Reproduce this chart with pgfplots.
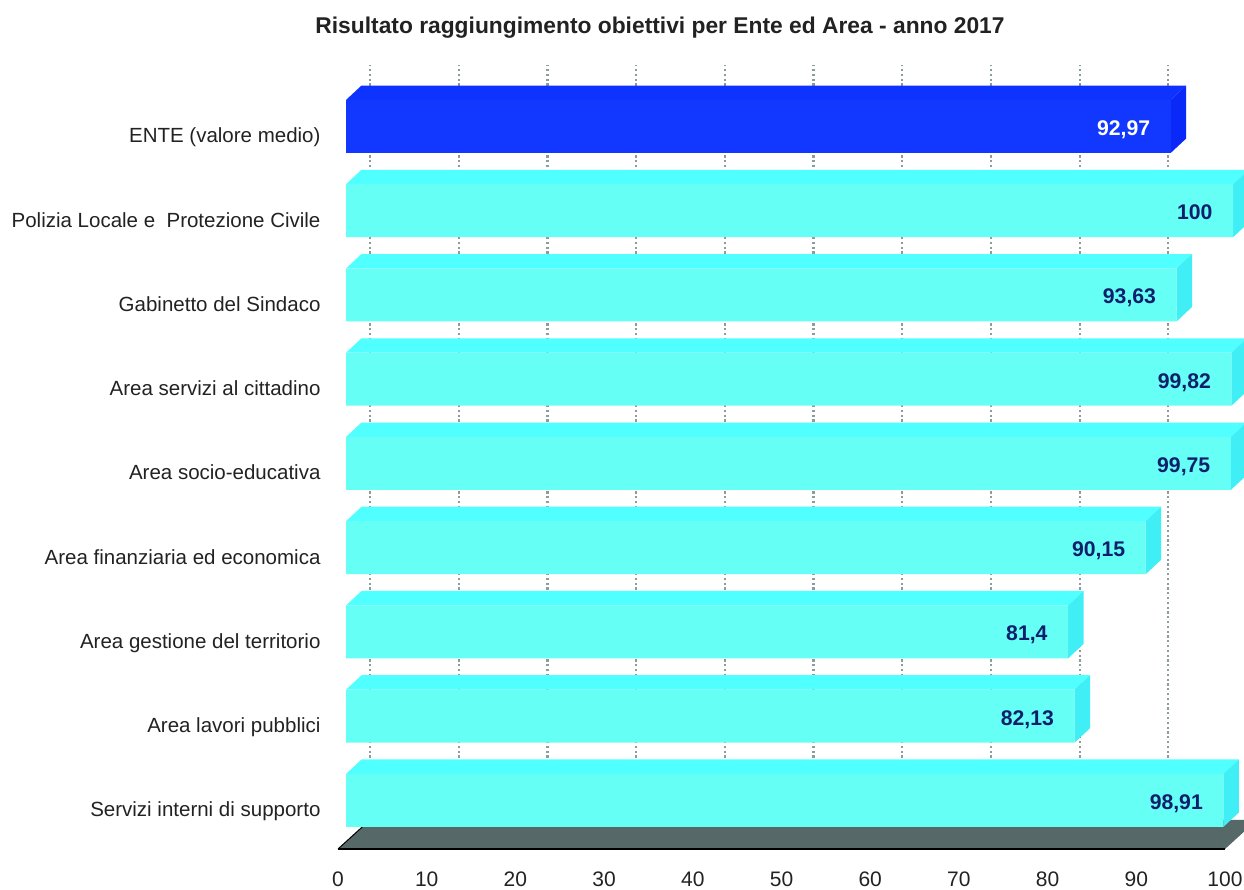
\documentclass[border=0pt]{standalone}
\usepackage{fontspec}
\setmainfont{Liberation Sans}
\usepackage{pgfplots}
\pgfplotsset{compat=1.18}
\definecolor{cyfront}{HTML}{66FFF5}
\definecolor{cytop}{HTML}{50FFFF}
\definecolor{cyside}{HTML}{40EEF5}
\definecolor{blfront}{HTML}{1238FF}
\definecolor{bltop}{HTML}{0F33FF}
\definecolor{blside}{HTML}{0A28F8}
\definecolor{floorc}{HTML}{566868}
\definecolor{gridc}{HTML}{8A9C9C}
\definecolor{navy}{HTML}{0F1F6B}
\definecolor{txt}{HTML}{222222}
% depth of the 3D extrusion in data units
\newcommand\faces[4]{%
  \pgfmathsetmacro\ya{#1-0.3145}%
  \pgfmathsetmacro\yb{#1+0.3145}%
  \pgfmathsetmacro\yc{#1-0.3145-0.172}%
  \pgfmathsetmacro\yd{#1+0.3145-0.172}%
  \pgfmathsetmacro\xa{#2+1.75}%
  \addplot[fill=#3,draw=none,forget plot] coordinates {(0,\ya) (1.75,\yc) (\xa,\yc) (#2,\ya)} --cycle;
  \addplot[fill=#4,draw=none,forget plot] coordinates {(#2,\ya) (\xa,\yc) (\xa,\yd) (#2,\yb)} --cycle;
}
\begin{document}
\begin{tikzpicture}[x=1pt,y=1pt]
\useasboundingbox (0,0) rectangle (1244,890);
% back wall with its grid
\begin{axis}[
  at={(370pt,70pt)},anchor=south west,
  scale only axis,width=887pt,height=755pt,
  xmin=0,xmax=100,ymin=0,ymax=1,
  xtick={0,10,...,90},ytick=\empty,
  xticklabels=\empty,
  xmajorgrids,
  major grid style={gridc,line width=2.2pt,dash pattern=on 2.2pt off 2.6pt},
  axis line style={draw=none},tick style={draw=none},
]
\addplot[draw=none,forget plot] coordinates {(0,0) (100,1)};
\end{axis}
% bars, floor and labels
\begin{axis}[
  at={(346pt,41pt)},anchor=south west,
  scale only axis,width=887pt,height=806.75pt,
  xmin=0,xmax=100,ymin=-1,ymax=8.576,
  y dir=reverse,clip=false,
  axis line style={draw=none},tick style={draw=none},
  xtick={0,10,...,100},
  ytick={0,...,8},
  yticklabels={ENTE (valore medio),Polizia Locale e\ \ Protezione Civile,Gabinetto del Sindaco,Area servizi al cittadino,Area socio-educativa,Area finanziaria ed economica,Area gestione del territorio,Area lavori pubblici,Servizi interni di supporto},
  /pgf/number format/assume math mode=true,
  xticklabel style={font=\fontsize{21}{25}\selectfont,text=txt,xshift=-8pt,yshift=-22.5pt,inner sep=0pt,text height=15pt,text depth=0pt},
  yticklabel style={font=\fontsize{20.5}{24}\selectfont,text=txt,xshift=-22pt,yshift=-11pt,text height=15pt,text depth=4pt},
  nodes near coords style={font=\bfseries\fontsize{21.2}{25}\selectfont,text height=15pt,text depth=4pt},
]
% floor
\addplot[fill=floorc,draw=none,forget plot] coordinates {(-0.902,8.576) (99.1,8.576) (102.7,8.231) (2.706,8.231)} --cycle;
\addplot[black,line width=2pt,forget plot] coordinates {(-0.902,8.576) (99.1,8.576)};
\addplot[black,line width=1pt,forget plot] coordinates {(-0.902,8.576) (1.98,8.30)};
% side and top faces
\faces{0}{92.97}{bltop}{blside}
\faces{1}{100}{cytop}{cyside}
\faces{2}{93.63}{cytop}{cyside}
\faces{3}{99.82}{cytop}{cyside}
\faces{4}{99.75}{cytop}{cyside}
\faces{5}{90.15}{cytop}{cyside}
\faces{6}{81.4}{cytop}{cyside}
\faces{7}{82.13}{cytop}{cyside}
\faces{8}{98.91}{cytop}{cyside}
% front faces
\addplot[xbar,bar width=53pt,bar shift=0pt,fill=blfront,draw=none,
  point meta=explicit symbolic,
  nodes near coords,
  nodes near coords align={anchor=east,xshift=-17pt,yshift=-3.5pt},
  every node near coord/.append style={text=white}]
  coordinates {(92.97,0)[92,97]};
\addplot[xbar,bar width=53pt,bar shift=0pt,fill=cyfront,draw=none,
  point meta=explicit symbolic,
  nodes near coords,
  nodes near coords align={anchor=east,xshift=-17pt,yshift=-3.5pt},
  every node near coord/.append style={text=navy}]
  coordinates {(100,1)[100] (93.63,2)[93,63] (99.82,3)[99,82] (99.75,4)[99,75] (90.15,5)[90,15] (81.4,6)[81,4] (82.13,7)[82,13] (98.91,8)[98,91]};
\end{axis}
\node[font=\bfseries\fontsize{22.8}{27}\selectfont,text=txt] at (660,862) {Risultato raggiungimento obiettivi per Ente ed Area - anno 2017};
\end{tikzpicture}
\end{document}
